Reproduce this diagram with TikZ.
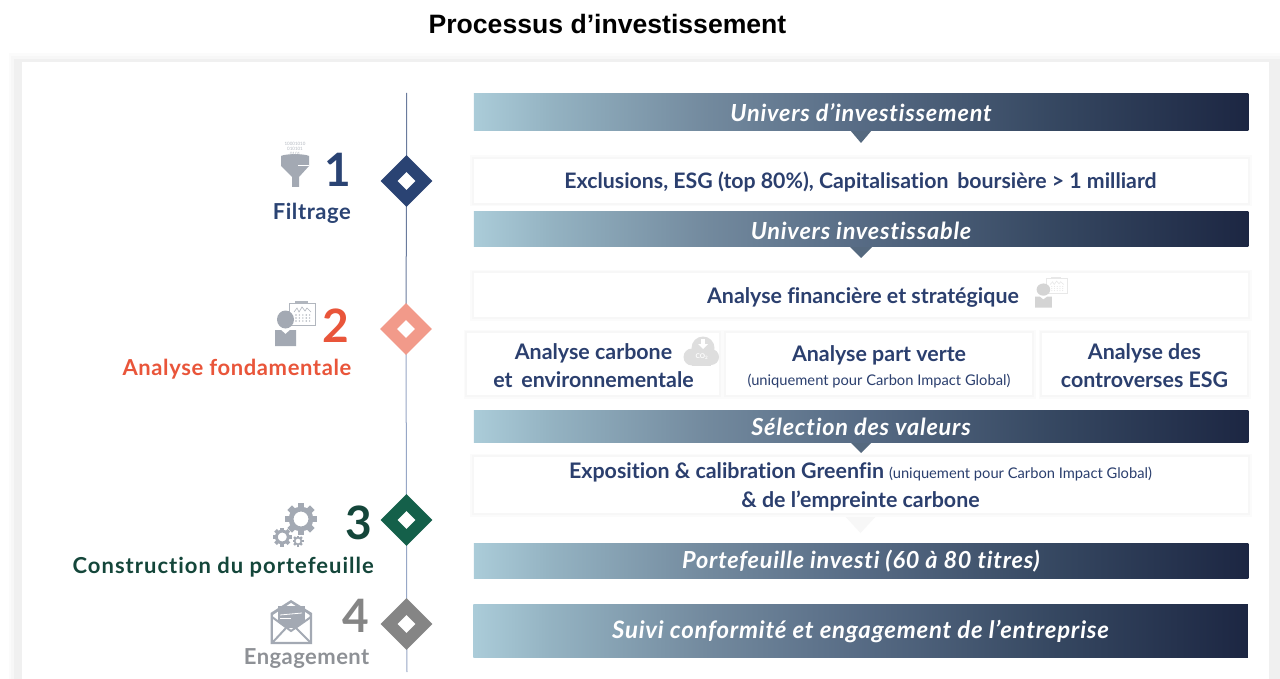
\documentclass[tikz,border=0pt]{standalone}
\usepackage{fontspec}
\setmainfont{Lato}[Ligatures=NoCommon]
\newfontfamily\titlefont{Liberation Sans}
\usetikzlibrary{shapes.geometric}
\definecolor{cblue}{HTML}{2A4373}
\definecolor{ctext}{HTML}{2B3F6E}
\definecolor{cred}{HTML}{E9553A}
\definecolor{csalmon}{HTML}{F29A8A}
\definecolor{cgreen}{HTML}{14604A}
\definecolor{cdgreen}{HTML}{14463A}
\definecolor{cgray}{HTML}{858585}
\definecolor{clabelgray}{HTML}{8E9196}
\definecolor{cicon}{HTML}{A3A9B3}
\definecolor{cline}{HTML}{7D91B8}
\definecolor{ctri}{HTML}{55697F}
\pgfdeclarehorizontalshading{barfade}{100bp}{
  rgb(0bp)=(0.67,0.80,0.85);
  rgb(25bp)=(0.67,0.80,0.85);
  rgb(30bp)=(0.58,0.70,0.76);
  rgb(40bp)=(0.45,0.54,0.62);
  rgb(50bp)=(0.34,0.42,0.52);
  rgb(62.5bp)=(0.21,0.28,0.38);
  rgb(75bp)=(0.11,0.15,0.26);
  rgb(100bp)=(0.11,0.15,0.26)}
\newcommand\fs[1]{\fontsize{#1}{#1}\selectfont}
\newcommand\ls[1]{\addfontfeature{LetterSpace=#1}}
\newcommand\gearicon[3]{%
  \begin{scope}[shift={(#1,#2)}]
    \foreach \a in {0,45,...,315}{
      \fill[cicon,rotate=\a] (-0.2*#3,0.7*#3) rectangle (0.2*#3,#3);}
    \draw[cicon,line width=0.3*#3 pt] (0,0) circle[radius=0.62*#3];
  \end{scope}}
\newcommand\personchart[6]{%
  \begin{scope}[shift={(#1,#2)},xscale=#3,yscale=#4]
    \draw[#6,line width=1pt,fill=white] (14,2) rectangle (40,24);
    \fill[#6] (20,0) rectangle (33,2);
    \draw[#6,line width=0.6pt] (19,11) -- (22,7) -- (24,11) -- (27,6) -- (30,10) -- (32,7) -- (36,11);
    \foreach \i in {0,1,2,3,4}{\foreach \j in {0,1,2}{
      \fill[#6] (21+\i*3.4,14+\j*3) circle[radius=0.8];}}
    \fill[#5] (10.5,18.5) ellipse[x radius=8.5,y radius=9];
    \fill[#5] (0,29) -- (6,29) -- (10.5,33) -- (15,29) -- (21,29) -- (21,45) -- (0,45) -- cycle;
  \end{scope}}
\tikzset{
  x=1pt,y=-1pt,
  bar/.style={shading=barfade,minimum width=774.5pt,inner sep=0pt,text=white},
  softbox/.style={fill=white,inner sep=0pt,
    preaction={draw=black!1.5,line width=7pt},
    preaction={draw=black!3,line width=3.5pt}},
  softtext/.style={inner sep=0pt,text=ctext,align=center,font=\bfseries\fs{21.4}},
  mark diamond/.style={diamond,aspect=1,inner sep=0pt,minimum width=52pt,minimum height=52pt},
  hole diamond/.style={diamond,aspect=1,inner sep=0pt,minimum width=18pt,minimum height=18pt,fill=white},
  numlabel/.style={anchor=base east,inner sep=0pt,font=\bfseries\fs{46}},
  steplabel/.style={anchor=base east,inner sep=0pt,font=\bfseries\fs{22}},
  bartext/.style={font=\bfseries\itshape\fs{23.5}\ls{3.3}},
}
\begin{document}
\begin{tikzpicture}
\useasboundingbox (0,0) rectangle (1280,679);
\fill[white] (0,0) rectangle (1280,679);
% page panel
\fill[black!1.5] (9,53) rectangle (1280,679);
\fill[black!3] (11,56) rectangle (1280,679);
\fill[black!6] (14,59) rectangle (1280,679);
\fill[white] (22,62) rectangle (1269,679);
\node[inner sep=0pt,font=\titlefont\bfseries\fs{26.6}] (title) at (607.5,24) {Processus d’investissement};
% timeline
\coordinate (top) at (406.5,93);
\coordinate (bot) at (407,672);
\node[mark diamond] (d1) at (406.5,181) {};
\node[mark diamond] (d2) at (406,329) {};
\node[mark diamond] (d3) at (406.5,520) {};
\node[mark diamond] (d4) at (406.5,624) {};
\draw[cblue!70!white,line width=1pt] (top) -- (d1.center) -- (d2.center);
\draw[cline!80!white,line width=1pt] (d2.center) -- (d3.center) -- (d4.center) -- (bot);
\node[mark diamond,fill=cblue] at (d1) {};
\node[mark diamond,fill=csalmon] at (d2) {};
\node[mark diamond,fill=cgreen] at (d3) {};
\node[mark diamond,fill=cgray] at (d4) {};
\node[hole diamond] (h1) at (d1) {};
\node[hole diamond] (h2) at (d2) {};
\node[hole diamond] (h3) at (d3) {};
\node[hole diamond] (h4) at (d4) {};
% left labels
\node[numlabel,text=cblue] (n1) at (351,187) {1};
\node[numlabel,text=cred] (n2) at (349,342) {2};
\node[numlabel,text=cdgreen] (n3) at (372,539) {3};
\node[numlabel,text=cgray] (n4) at (369,632) {4};
\node[steplabel,text=cblue,font=\bfseries\fs{22}\ls{2.5}] (l1) at (351,219.5) {Filtrage};
\node[steplabel,text=cred,font=\bfseries\fs{22}\ls{2.8}] (l2) at (351.5,375) {Analyse fondamentale};
\node[steplabel,text=cdgreen,font=\bfseries\fs{22}\ls{4.6}] (l3) at (374,573) {Construction du portefeuille};
\node[steplabel,text=clabelgray,font=\bfseries\fs{22}\ls{2}] (l4) at (369.5,664) {Engagement};
% funnel icon
\fill[cicon] (281,156) .. controls (286,153.5) and (304,153.5) .. (309,156) -- (309,166) -- (299,177) -- (299,187) -- (292,187) -- (292,177) -- (281,166) -- cycle;
\draw[white,line width=.7pt] (298,165) -- (309,165);
\node[inner sep=0pt,font=\fs{4.5},text=cicon!80!white] (f1) at (295,144) {10001010};
\node[inner sep=0pt,font=\fs{4.5},text=cicon!80!white] (f2) at (295,149) {010101};
\node[inner sep=0pt,font=\fs{4.5},text=cicon!80!white] (f3) at (295,154) {0101};
% person-chart icons
\personchart{275}{301}{1}{1}{cicon}{cicon!85!white}
% gears
\gearicon{301}{519}{16}
\gearicon{282.3}{537}{9.5}
\gearicon{298}{541}{5.5}
% envelope icon
\fill[cicon] (270.5,613) -- (291,600) -- (312,613) -- (312,644) -- (270.5,644) -- cycle;
\fill[white] (273,615) -- (291,603) -- (309.5,615) -- (309.5,641.5) -- (273,641.5) -- cycle;
\fill[cicon] (278,606) rectangle (305,628);
\draw[white,line width=.8pt] (280,615) -- (302,613);
\draw[white,line width=.8pt] (280,618) -- (291,618);
\fill[white] (273,618) -- (291,631) -- (309.5,618) -- (309.5,641.5) -- (273,641.5) -- cycle;
\draw[cicon,line width=2pt] (272,617) -- (291,631) -- (311,617);
\draw[cicon,line width=2pt] (272,643) -- (286,628);
\draw[cicon,line width=2pt] (311,643) -- (296,628);
% right column: boxes and pointers
\foreach \tipx/\tipt/\tipb in {861/130/143,861/247/258,861/442/453}{
  \fill[ctri] (\tipx-11,\tipt) -- (\tipx+11,\tipt) -- (\tipx,\tipb) -- cycle;}
\fill[black!3] (842,513) -- (879,513) -- (860.5,533) -- cycle;
\node[softbox,minimum width=774.5pt,minimum height=44pt] (w1) at (861,181) {};
\node[softbox,minimum width=774.5pt,minimum height=44pt] (w2) at (861,295) {};
\node[softbox,minimum width=252pt,minimum height=62pt] (w3) at (593,364) {};
\node[softbox,minimum width=306pt,minimum height=62pt] (w4) at (879,364) {};
\node[softbox,minimum width=205pt,minimum height=62pt] (w5) at (1144.5,364) {};
\node[softbox,minimum width=774.5pt,minimum height=56pt] (w6) at (861,485) {};
\node[softtext,font=\bfseries\fs{21.3}] (t1) at (860.5,182) {Exclusions, ESG (top 80\%), Capitalisation\, boursière > 1 milliard};
\node[softtext] (t2) at (863,297) {Analyse financière et stratégique};
\node[softtext] (t3) at (593.5,365.5) {Analyse carbone\\[7pt]et\, environnementale};
\node[softtext] (t4) at (879,367) {Analyse part verte\\[3pt]{\mdseries\fs{14.7}(uniquement pour Carbon Impact Global)}};
\node[softtext] (t5) at (1144.5,365.5) {Analyse des\\[7pt]controverses ESG};
\node[softtext] (t6) at (860.5,487) {Exposition \& calibration Greenfin {\mdseries\fs{14.7}(uniquement pour Carbon Impact Global)}\\[7pt]\& de l’empreinte carbone};
\node[bar,minimum height=37pt] (b1) at (861,112) {};
\node[bar,minimum height=35pt] (b2) at (861,229.5) {};
\node[bar,minimum height=32pt] (b3) at (861,426) {};
\node[bar,minimum height=35pt] (b4) at (861,560.5) {};
\node[bar,minimum height=53pt] (b5) at (860.5,630.5) {};
\node[inner sep=0pt,text=white,bartext] (bt1) at (861,113) {Univers d’investissement};
\node[inner sep=0pt,text=white,bartext] (bt2) at (861,230.5) {Univers investissable};
\node[inner sep=0pt,text=white,bartext] (bt3) at (861,427) {Sélection des valeurs};
\node[inner sep=0pt,text=white,bartext] (bt4) at (861,561.5) {Portefeuille investi (60 à 80 titres)};
\node[inner sep=0pt,text=white,font=\bfseries\itshape\fs{24}\ls{3.2}] (bt5) at (860.5,631.5) {Suivi conformité et engagement de l’entreprise};
% cloud icon
\fill[black!13] (692,357) circle[radius=8.5];
\fill[black!13] (703,348) circle[radius=11.5];
\fill[black!13] (711,357) circle[radius=8];
\fill[black!13] (692,350) rectangle (711,365.5);
\fill[white] (701,339) rectangle (705,344);
\fill[white] (698,344) -- (708,344) -- (703,349) -- cycle;
\node[inner sep=0pt,text=white,font=\bfseries\fs{6.5}] (co) at (702,356.5) {CO\textsubscript{2}};
\personchart{1035}{277}{.8}{.68}{black!17}{black!9}
\end{tikzpicture}
\end{document}
